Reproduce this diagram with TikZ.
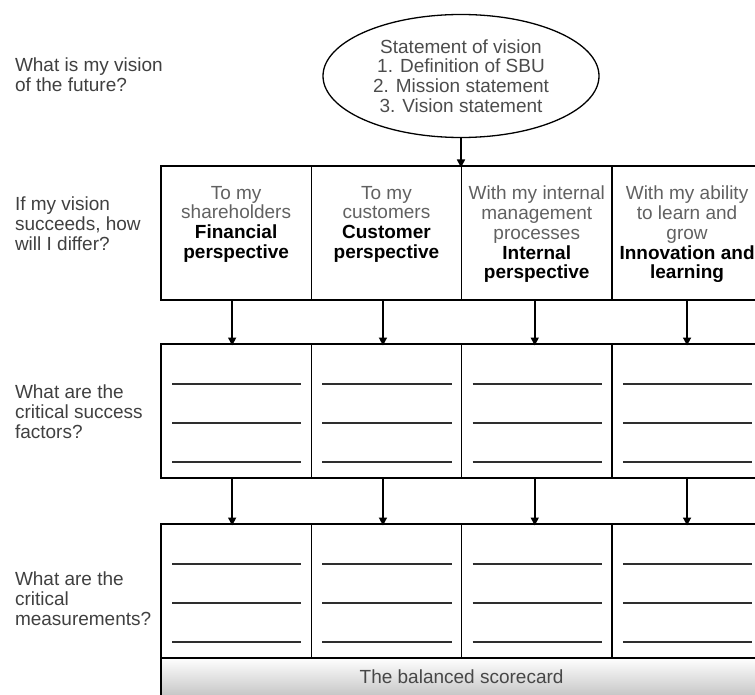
\documentclass[tikz,border=0pt]{standalone}
\usepackage{fontspec}
\setmainfont{Liberation Sans}
\usetikzlibrary{shapes.geometric,arrows.meta}

\begin{document}
\begin{tikzpicture}[x=1pt,y=-1pt,
  every node/.style={font=\fontsize{19}{19.75}\selectfont, inner sep=0pt, outer sep=0pt},
  question/.style={anchor=north west, align=left, text=black!75},
  cell/.style={draw, line width=1.6pt, rectangle, minimum width=150.3pt,
               minimum height=134pt, anchor=north west},
  celltext/.style={anchor=north, align=center, text=black!62},
  blank/.style={line width=2.3pt, draw=black!82},
  arr/.style={line width=1.6pt, -{Triangle[length=8pt,width=8pt]}, shorten >=-1.5pt},
  vision/.style={ellipse, draw, line width=1.3pt, minimum width=276pt,
                 minimum height=123pt, align=center, text=black!70}
]
\useasboundingbox (0,0) rectangle (755,695);
\clip (0,0) rectangle (755,695);

% questions down the left margin
\node[question] (q1) at (15,58)  {What is my vision\\of the future?};
\node[question] (q2) at (15,197) {If my vision\\succeeds, how\\will I differ?};
\node[question] (q3) at (15,385) {What are the\\critical success\\factors?};
\node[question] (q4) at (15,572) {What are the\\critical\\measurements?};

% statement of vision
\node[vision] (vis) at (461,76) {Statement of vision\\1. Definition of SBU\\2. Mission statement\\3. Vision statement};

% three rows of four cells
\foreach \c/\x in {1/161,2/311.3,3/461.6,4/611.9}{
  \node[cell] (r1c\c) at (\x,166) {};
  \node[cell] (r2c\c) at (\x,344) {};
  \node[cell] (r3c\c) at (\x,524) {};
}

% perspectives
\node[celltext] (t1) at ([yshift=-20pt]r1c1.north) {To my\\shareholders\\{\bfseries\color{black}Financial}\\{\bfseries\color{black}perspective}};
\node[celltext] (t2) at ([yshift=-20pt]r1c2.north) {To my\\customers\\{\bfseries\color{black}Customer}\\{\bfseries\color{black}perspective}};
\node[celltext] (t3) at ([yshift=-20pt]r1c3.north) {With my internal\\management\\processes\\{\bfseries\color{black}Internal}\\{\bfseries\color{black}perspective}};
\node[celltext] (t4) at ([yshift=-20pt]r1c4.north) {With my ability\\to learn and\\grow\\{\bfseries\color{black}Innovation and}\\{\bfseries\color{black}learning}};

% blank lines to be filled in
\foreach \r in {2,3}{
  \foreach \c in {1,2,3,4}{
    \foreach \d in {40,79,118}{
      \draw[blank] ([xshift=11pt,yshift=-\d pt]r\r c\c.north west) -- ([xshift=-10pt,yshift=-\d pt]r\r c\c.north east);
    }
  }
}

% scorecard bar
\node[rectangle, minimum width=601.2pt, minimum height=37pt, anchor=north west,
      top color=white, bottom color=black!22, text=black!72] (bar) at (161,658) {The balanced scorecard};
\draw[line width=1.6pt] (bar.north west) -- (bar.south west);
\draw[line width=1.6pt] (r3c1.south west) -- (r3c4.south east);

% connectors
\draw[arr] (vis.south) -- (vis.south |- r1c3.north);
\foreach \c/\s in {1/-4,2/-3.5,3/-2,4/0}{
  \draw[arr] ([xshift=\s pt]r1c\c.south) -- ([xshift=\s pt]r2c\c.north);
  \draw[arr] ([xshift=\s pt]r2c\c.south) -- ([xshift=\s pt]r3c\c.north);
}
\end{tikzpicture}
\end{document}
